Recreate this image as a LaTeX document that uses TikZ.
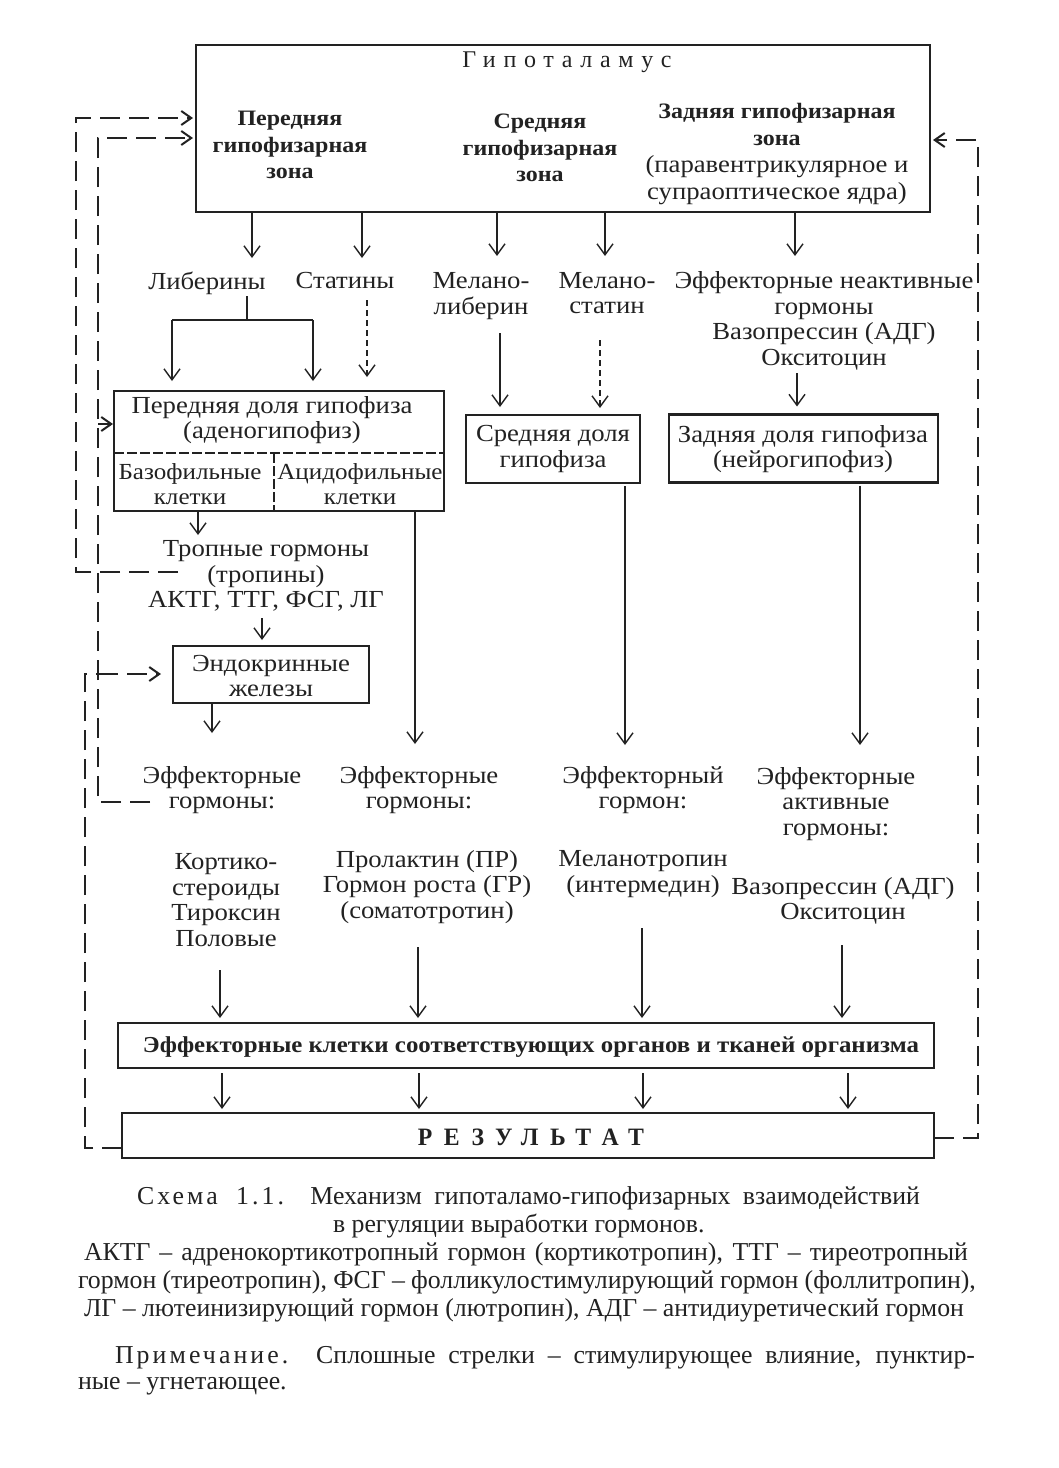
\documentclass[tikz,border=0pt]{standalone}
\usepackage{fontspec}
\setmainfont{Liberation Serif}[FakeStretch=1.09]
\newfontfamily\spf{Liberation Serif}[LetterSpace=32]
\newfontfamily\spbf{Liberation Serif}[LetterSpace=46,FakeStretch=0.95]
\newfontfamily\capf{Liberation Serif}
\newfontfamily\capsp{Liberation Serif}[LetterSpace=12]
\usetikzlibrary{arrows.meta}
\definecolor{ink}{HTML}{222222}
\begin{document}
\begin{tikzpicture}[x=1pt,y=-1pt,
  every node/.style={inner sep=0pt,outer sep=0pt,text=ink},
  txt/.style={font=\fontsize{24.5}{25.5}\selectfont,align=center},
  bld/.style={font=\fontsize{22}{26.5}\selectfont\bfseries,align=center},
  captxt/.style={font=\capf\fontsize{25.8}{28}\selectfont,anchor=west},
  boxed/.style={draw=ink,line width=2.4pt},
  ln/.style={draw=ink,line width=1.4pt},
  arr/.style={draw=ink,line width=1.4pt,-{Straight Barb[length=11pt,width=16pt,line width=1.4pt]}},
  dasharr/.style={arr,dash pattern=on 6pt off 4pt},
  dv/.style={draw=ink,line width=2pt,dash pattern=on 10pt off 3pt},
  fbline/.style={draw=ink,line width=2.6pt,dash pattern=on 20pt off 9pt},
  fbarr/.style={fbline,-{Straight Barb[length=10pt,width=14pt,line width=2pt]}},
]
\useasboundingbox[fill=white] (0,0) rectangle (1059,1468);

% ---------- Hypothalamus ----------
\node[boxed,minimum width=734pt,minimum height=167pt] (hyp) at (563,128.5) {};
\node[font=\spf\fontsize{24}{26}\selectfont] (hypt) at (567,62) {Гипоталамус};
\node[bld] (z1) at (290,145) {Передняя\\гипофизарная\\зона};
\node[bld] (z2) at (540,148) {Средняя\\гипофизарная\\зона};
\node[txt,font=\fontsize{24.5}{26.7}\selectfont] (z3) at (777,154) {{\fontsize{22}{26.7}\selectfont\bfseries Задняя гипофизарная}\\{\fontsize{22}{26.7}\selectfont\bfseries зона}\\(паравентрикулярное и\\супраоптическое ядра)};

% ---------- first row of labels ----------
\node[txt] (lib) at (207,283) {Либерины};
\node[txt] (stat) at (345,281) {Статины};
\node[txt] (mlib) at (481,296) {Мелано-\\либерин};
\node[txt] (mstat) at (607,293) {Мелано-\\статин};
\node[txt] (eneakt) at (824,321) {Эффекторные неактивные\\гормоны\\Вазопрессин (АДГ)\\Окситоцин};

\coordinate (t1) at (252,258);
\coordinate (t2) at (362,258);
\coordinate (t3) at (497,256);
\coordinate (t4) at (605,256);
\coordinate (t5) at (795,256);
\draw[arr] (hyp.south -| t1) -- (t1);
\draw[arr] (hyp.south -| t2) -- (t2);
\draw[arr] (hyp.south -| t3) -- (t3);
\draw[arr] (hyp.south -| t4) -- (t4);
\draw[arr] (hyp.south -| t5) -- (t5);

% ---------- pituitary lobes ----------
\node[boxed,minimum width=330pt,minimum height=120pt] (ant) at (279,451) {};
\node[boxed,minimum width=174pt,minimum height=68pt] (mid) at (553,449) {};
\node[boxed,minimum width=269pt,minimum height=68pt] (post) at (803.5,448.5) {};
\coordinate (dvy) at (0,453);
\coordinate (dvx) at (274,453);
\draw[dv] (ant.west |- dvy) -- (ant.east |- dvy);
\draw[dv] (dvx) -- (dvx |- ant.south);
\node[txt] (antt) at (272,420) {Передняя доля гипофиза\\(аденогипофиз)};
\node[txt,font=\fontsize{23}{24.5}\selectfont] (baso) at (190,484) {Базофильные\\клетки};
\node[txt,font=\fontsize{23}{24.5}\selectfont] (acid) at (360,484) {Ацидофильные\\клетки};
\node[txt] (midt) at (553,449) {Средняя доля\\гипофиза};
\node[txt] (postt) at (803,449) {Задняя доля гипофиза\\(нейрогипофиз)};

% liberins / statins etc.
\coordinate (lb) at (247,296);
\coordinate (lbj) at (247,320);
\coordinate (lbl) at (172,320);
\coordinate (lbr) at (313,320);
\draw[ln] (lb) -- (lbj);
\draw[ln] (lbl) -- (lbr);
\draw[arr,shorten >=10pt] (lbl) -- (lbl |- ant.north);
\draw[arr,shorten >=10pt] (lbr) -- (lbr |- ant.north);
\coordinate (st) at (367,300);
\draw[dasharr,shorten >=14pt] (st) -- (st |- ant.north);
\coordinate (ml) at (500,333);
\draw[arr,shorten >=8pt] (ml) -- (ml |- mid.north);
\coordinate (ms) at (600,340);
\draw[dasharr,shorten >=7pt] (ms) -- (ms |- mid.north);
\coordinate (ok) at (797,373);
\draw[arr,shorten >=8pt] (ok) -- (ok |- post.north);

% ---------- tropic hormones, endocrine glands ----------
\node[txt] (trop) at (266,576) {Тропные гормоны\\(тропины)\\АКТГ, ТТГ, ФСГ, ЛГ};
\coordinate (tr) at (198,535);
\draw[arr] (ant.south -| tr) -- (tr);
\node[boxed,minimum width=196pt,minimum height=57pt] (endo) at (271,674.5) {};
\node[txt] (endot) at (271,676) {Эндокринные\\железы};
\coordinate (te) at (262,618);
\draw[arr,shorten >=6pt] (te) -- (te |- endo.north);
\coordinate (ee) at (212,733);
\draw[arr] (endo.south -| ee) -- (ee);

\coordinate (ac) at (415,744);
\draw[arr] (ant.south -| ac) -- (ac);
\coordinate (mc) at (625,745);
\draw[arr,shorten <=3pt] (mid.south -| mc) -- (mc);
\coordinate (pc) at (860,745);
\draw[arr,shorten <=3pt] (post.south -| pc) -- (pc);

% ---------- effector hormones ----------
\node[txt] (e1) at (222,790) {Эффекторные\\гормоны:};
\node[txt] (e1b) at (226,900) {Кортико-\\стероиды\\Тироксин\\Половые};
\node[txt] (e2) at (419,790) {Эффекторные\\гормоны:};
\node[txt] (e2b) at (427,887) {Пролактин (ПР)\\Гормон роста (ГР)\\(соматотротин)};
\node[txt] (e3) at (643,790) {Эффекторный\\гормон:};
\node[txt] (e3b) at (643,874) {Меланотропин\\(интермедин)};
\node[txt] (e4) at (836,804) {Эффекторные\\активные\\гормоны:};
\node[txt] (e4b) at (843,901) {Вазопрессин (АДГ)\\Окситоцин};

% ---------- effector cells, result ----------
\node[boxed,minimum width=816pt,minimum height=45pt] (cells) at (526,1045.5) {};
\node[font=\fontsize{22.8}{24}\selectfont\bfseries] (cellst) at (531,1047) {Эффекторные клетки соответствующих органов и тканей организма};
\node[boxed,minimum width=812pt,minimum height=45pt] (res) at (528,1135.5) {};
\node[font=\spbf\fontsize{25}{26}\selectfont\bfseries] (rest) at (531,1137) {РЕЗУЛЬТАТ};

\coordinate (c1) at (220,970);
\coordinate (c2) at (418,947);
\coordinate (c3) at (642,928);
\coordinate (c4) at (842,945);
\draw[arr,shorten >=5pt] (c1) -- (c1 |- cells.north);
\draw[arr,shorten >=5pt] (c2) -- (c2 |- cells.north);
\draw[arr,shorten >=5pt] (c3) -- (c3 |- cells.north);
\draw[arr,shorten >=5pt] (c4) -- (c4 |- cells.north);
\coordinate (r1) at (222,0);
\coordinate (r2) at (419,0);
\coordinate (r3) at (643,0);
\coordinate (r4) at (848,0);
\draw[arr,shorten <=5pt,shorten >=4pt] (cells.south -| r1) -- (res.north -| r1);
\draw[arr,shorten <=5pt,shorten >=4pt] (cells.south -| r2) -- (res.north -| r2);
\draw[arr,shorten <=5pt,shorten >=4pt] (cells.south -| r3) -- (res.north -| r3);
\draw[arr,shorten <=5pt,shorten >=4pt] (cells.south -| r4) -- (res.north -| r4);

% ---------- feedback (dashed) ----------
\coordinate (fa) at (178,572);
\coordinate (ya) at (76,118);
\draw[fbarr,shorten >=3pt] (fa) -| (ya) -- (ya -| hyp.west);
\coordinate (fb0) at (150,802);
\coordinate (yb) at (98,138);
\draw[fbarr,shorten >=3pt] (fb0) -| (yb) -- (yb -| hyp.west);
\coordinate (yb2) at (98,424);
\draw[fbarr,shorten >=1pt] (yb2) -- (yb2 -| ant.west);
\coordinate (yb3) at (98,674);
\draw[fbarr,shorten >=12pt] (yb3) -- (yb3 -| endo.west);
\coordinate (yr) at (0,1148);
\coordinate (yc) at (85,674);
\draw[fbline] (res.west |- yr) -| (yc) -- (yb3);
\coordinate (yr2) at (0,1138);
\coordinate (yd) at (978,140);
\draw[fbarr,shorten >=3pt] (res.east |- yr2) -| (yd) -- (yd -| hyp.east);

% ---------- caption ----------
\node[captxt] (cap1) at (137,1198) {\makebox[783pt][s]{{\capsp Схема 1.1.} Механизм гипоталамо-гипофизарных взаимодействий}};
\node[captxt] (cap2) at (333,1226) {в регуляции выработки гормонов.};
\node[captxt] (cap3) at (84,1254) {\makebox[884pt][s]{АКТГ – адренокортикотропный гормон (кортикотропин), ТТГ – тиреотропный}};
\node[captxt] (cap4) at (78,1282) {\makebox[898pt][s]{гормон (тиреотропин), ФСГ – фолликулостимулирующий гормон (фоллитропин),}};
\node[captxt] (cap5) at (84,1310) {\makebox[880pt][s]{ЛГ – лютеинизирующий гормон (лютропин), АДГ – антидиуретический гормон}};
\node[captxt] (cap6) at (115,1358) {\makebox[860pt][s]{{\capsp Примечание.} Сплошные стрелки – стимулирующее влияние, пунктир-}};
\node[captxt] (cap7) at (78,1386) {ные – угнетающее.};
\end{tikzpicture}
\end{document}
